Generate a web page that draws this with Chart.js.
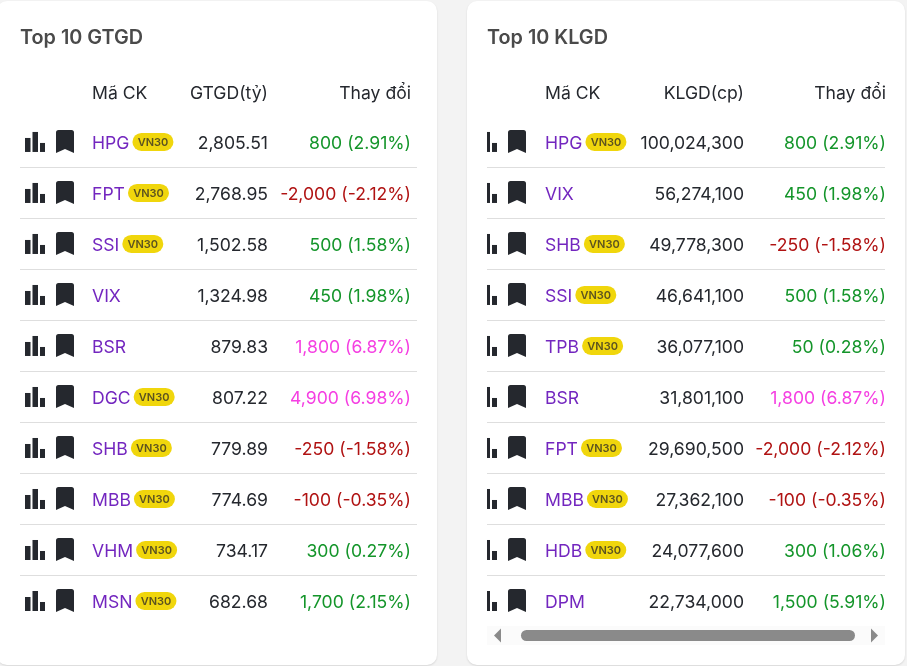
<!DOCTYPE html>
<html lang="vi">
<head>
<meta charset="utf-8">
<title>Top 10</title>
<script src="https://cdn.jsdelivr.net/npm/chart.js@4"></script>
<style>
html,body{margin:0;padding:0;background:#f3f3f3;width:907px;height:666px;overflow:hidden}
.card{position:absolute;top:1px;height:664px;background:#fff;border-radius:10px;box-shadow:0 1px 2px rgba(0,0,0,.12);overflow:hidden}
#c1{left:-3px;width:440px}
#c2{left:467px;width:438px}
canvas{position:absolute;top:-1px}
</style>
</head>
<body>
<div class="card" id="c1"><canvas id="a" width="437" height="666" style="left:3px"></canvas></div>
<div class="card" id="c2"><canvas id="b" width="438" height="666" style="left:0"></canvas></div>
<script>
const gtgdTickers = ["HPG","FPT","SSI","VIX","BSR","DGC","SHB","MBB","VHM","MSN"];
const gtgdValues  = [2805.51,2768.95,1502.58,1324.98,879.83,807.22,779.89,774.69,734.17,682.68];
const gtgdChange  = [800,-2000,500,450,1800,4900,-250,-100,300,1700];
const gtgdPercent = [2.91,-2.12,1.58,1.98,6.87,6.98,-1.58,-0.35,0.27,2.15];
const gtgdVn30    = [true,true,true,false,false,true,true,true,true,true];

const klgdTickers = ["HPG","VIX","SHB","SSI","TPB","BSR","FPT","MBB","HDB","DPM"];
const klgdValues  = [100024300,56274100,49778300,46641100,36077100,31801100,29690500,27362100,24077600,22734000];
const klgdChange  = [800,450,-250,500,50,1800,-2000,-100,300,1500];
const klgdPercent = [2.91,1.98,-1.58,1.58,0.28,6.87,-2.12,-0.35,1.06,5.91];
const klgdVn30    = [true,false,true,true,true,false,true,true,true,false];

const FONT = 'Inter, "Noto Sans", sans-serif';
const DARK = '#25282e';
const TEXT_DY = 1.5;

function changeColor(p){ return p < 0 ? '#b01212' : p >= 6.5 ? '#f53fe2' : '#14952a'; }
function fmtChange(c,p){
  return c.toLocaleString('en-US') + ' (' + p.toFixed(2) + '%)';
}
function roundRect(ctx,x,y,w,h,r){ ctx.beginPath(); ctx.roundRect(x,y,w,h,r); ctx.fill(); }

const tablePlugin = {
  id:'table',
  afterDraw(chart, _args, o){
    const ctx = chart.ctx, xs = chart.scales.x, ys = chart.scales.y, area = chart.chartArea;
    const X = v => xs.getPixelForValue(v);
    ctx.save();
    ctx.textBaseline = 'middle';
    // header row
    ctx.font = '400 '+o.headSize+'px '+FONT;
    ctx.fillStyle = DARK;
    ctx.textAlign = 'left';  ctx.fillText('Mã CK', X(o.codeX), o.headY+TEXT_DY);
    ctx.textAlign = 'right'; ctx.fillText(o.valueHead, X(o.valueX), o.headY+TEXT_DY);
    ctx.fillText('Thay đổi', X(o.changeX), o.headY+TEXT_DY);

    o.tickers.forEach((t,i)=>{
      const y = ys.getPixelForValue(i);
      const ty = y + TEXT_DY;
      // bar-chart icon (clipped when the table is scrolled)
      ctx.save();
      ctx.beginPath(); ctx.rect(area.left, y-20, 200, 40); ctx.clip();
      ctx.fillStyle = DARK;
      const ix = X(o.iconX);
      ctx.fillRect(ix,     y-4,  5.5, 14);
      ctx.fillRect(ix+7.5, y-10, 5.5, 20);
      ctx.fillRect(ix+15,  y+1,  5, 9);
      ctx.restore();
      // bookmark icon
      const bx = X(o.markX);
      ctx.fillStyle = DARK;
      ctx.beginPath();
      ctx.moveTo(bx, y-9.5);
      ctx.quadraticCurveTo(bx, y-12, bx+2.5, y-12);
      ctx.lineTo(bx+15.5, y-12);
      ctx.quadraticCurveTo(bx+18, y-12, bx+18, y-9.5);
      ctx.lineTo(bx+18, y+11);
      ctx.lineTo(bx+9, y+7);
      ctx.lineTo(bx, y+11);
      ctx.closePath(); ctx.fill();
      // ticker
      ctx.font = '400 '+o.size+'px '+FONT;
      ctx.textAlign = 'left';
      ctx.fillStyle = '#7326bf';
      ctx.fillText(t, X(o.codeX), ty);
      // VN30 badge
      if (o.vn30[i]) {
        const w = ctx.measureText(t).width;
        const px = X(o.codeX) + w + 3;
        ctx.fillStyle = '#f0d60c';
        roundRect(ctx, px, y-9, 41, 18, 9);
        ctx.font = '600 11px '+FONT;
        ctx.fillStyle = '#5c5320';
        ctx.textAlign = 'center';
        ctx.fillText('VN30', px+20.5, y+0.5);
        ctx.font = '400 '+o.size+'px '+FONT;
      }
      // value
      ctx.textAlign = 'right';
      ctx.fillStyle = DARK;
      ctx.fillText(o.values[i].toLocaleString('en-US',{minimumFractionDigits:o.decimals,maximumFractionDigits:o.decimals}), X(o.valueX), ty);
      // change
      ctx.fillStyle = changeColor(o.percent[i]);
      ctx.fillText(fmtChange(o.change[i], o.percent[i]), X(o.changeX), ty);
    });

    if (o.scrollbar) {
      const L = area.left, R = area.right;
      ctx.fillStyle = '#fbfbfb';
      ctx.fillRect(L, 626, R-L, 19);
      ctx.fillStyle = '#8a8a8a';
      roundRect(ctx, L+34, 630, 334, 11, 5.5);
      ctx.beginPath(); ctx.moveTo(L+7,635.5); ctx.lineTo(L+14,628.5); ctx.lineTo(L+14,642.5); ctx.closePath(); ctx.fill();
      ctx.beginPath(); ctx.moveTo(R-7,635.5); ctx.lineTo(R-14,628.5); ctx.lineTo(R-14,642.5); ctx.closePath(); ctx.fill();
    }
    ctx.restore();
  }
};

function makeTable(id, width, pad, title, valueHead, tickers, values, change, percent, vn30, decimals, cols, scrollbar){
  const cv = document.getElementById(id);
  const span = width - pad.left - pad.right;
  return new Chart(cv, {
    type:'scatter',
    plugins:[tablePlugin],
    data:{
      labels:tickers,
      datasets:[{label:valueHead, data:tickers.map((t,i)=>({x:cols.valueX,y:i})), pointRadius:0, showLine:false}]
    },
    options:{
      responsive:false, animation:false, devicePixelRatio:1,
      events:[],
      layout:{padding:{left:pad.left,right:pad.right,top:0,bottom:pad.bottom}},
      scales:{
        x:{type:'linear',display:false,min:0,max:span},
        y:{type:'linear',min:-0.5,max:9.5,reverse:true,display:true,
           afterFit(s){s.width=0;},
           border:{display:false},
           ticks:{display:false,stepSize:1,count:11,callback:()=>''},
           afterBuildTicks(s){ s.ticks = Array.from({length:11},(_,i)=>({value:i-0.5})); },
           grid:{drawTicks:false,lineWidth:1,
                 color:c=> (c.index===0||c.index===10)?'rgba(0,0,0,0)':'#dedede'}}
      },
      plugins:{
        legend:{display:false},
        tooltip:{enabled:false},
        title:{display:true,text:title,align:'start',color:'#4a4a4a',
               font:{family:FONT,size:19.8,weight:'600',lineHeight:1.2},
               padding:{top:26,bottom:66.7}},
        table:Object.assign({tickers,values,change,percent,vn30,decimals,valueHead,scrollbar,
                             size:17.6,headSize:17.6,headY:92},cols)
      }
    }
  });
}
makeTable('a',437,{left:20,right:20,bottom:39.5},'Top 10 GTGD','GTGD(tỷ)',
  gtgdTickers,gtgdValues,gtgdChange,gtgdPercent,gtgdVn30,2,
  {iconX:5,markX:36,codeX:72,valueX:248,changeX:391},false);
makeTable('b',438,{left:20,right:20,bottom:39.5},'Top 10 KLGD','KLGD(cp)',
  klgdTickers,klgdValues,klgdChange,klgdPercent,klgdVn30,0,
  {iconX:-10,markX:21,codeX:58,valueX:257,changeX:399},true);
</script>
</body>
</html>
